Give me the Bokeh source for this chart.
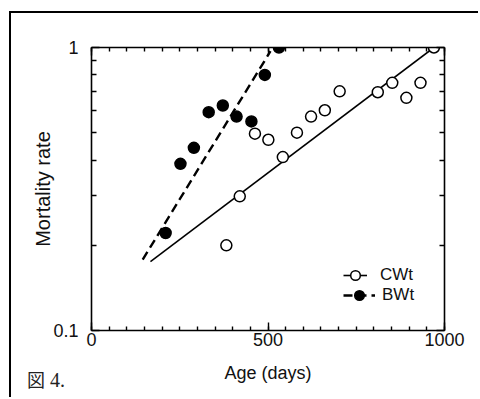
from bokeh.plotting import figure
from bokeh.layouts import column
from bokeh.models import (Range1d, FixedTicker, LinearAxis, LogAxis, Div,
                          BasicTickFormatter, Legend, LegendItem)
from bokeh.embed import file_html
from bokeh.resources import INLINE

# ---- data ----
cwt_age = [382, 420, 463, 501, 542, 582, 622, 661, 703, 811, 852, 892, 932, 970]
cwt_rate = [0.20, 0.298, 0.496, 0.472, 0.41, 0.50, 0.57, 0.60, 0.70, 0.695, 0.75, 0.664, 0.75, 1.0]
bwt_age = [210, 252, 290, 332, 372, 411, 453, 491, 531]
bwt_rate = [0.221, 0.388, 0.442, 0.591, 0.624, 0.570, 0.548, 0.80, 1.0]
cwt_fit_age = [167, 970]
cwt_fit_rate = [0.175, 1.0]
bwt_fit_age = [145, 507]
bwt_fit_rate = [0.178, 0.97]
x_ticks = [0, 500, 1000]
x_minor_ticks = [0, 50, 100, 150, 200, 250, 300, 350, 400, 450, 500,
                 550, 600, 650, 700, 750, 800, 850, 900, 950, 1000]
y_ticks = [0.1, 1]
y_minor_ticks = [0.2, 0.3, 0.4, 0.5, 0.6, 0.7, 0.8, 0.9]
series_names = ["CWt", "BWt"]
x_label = "Age (days)"
y_label = "Mortality rate"
caption = "図 4."

FONT = "Liberation Sans"

p = figure(width=480, height=399, output_backend="svg", toolbar_location=None,
           x_range=Range1d(0, 1000), y_range=Range1d(0.1, 1), y_axis_type="log",
           min_border_left=91, min_border_right=36, min_border_top=47,
           min_border_bottom=69)
p.grid.visible = False
p.outline_line_color = None
p.background_fill_color = "white"
p.border_fill_color = "white"

xt = FixedTicker(ticks=x_ticks, minor_ticks=x_minor_ticks)
yt = FixedTicker(ticks=y_ticks, minor_ticks=y_minor_ticks)


def style_axis(ax, tick_len_major, tick_len_minor):
    ax.axis_line_color = "black"
    ax.axis_line_width = 1.6
    ax.major_tick_in = tick_len_major
    ax.major_tick_out = 0
    ax.minor_tick_in = tick_len_minor
    ax.minor_tick_out = 0
    ax.major_tick_line_width = 1.4
    ax.minor_tick_line_width = 1.4
    ax.major_tick_line_color = "black"
    ax.minor_tick_line_color = "black"
    ax.major_label_text_font = FONT
    ax.major_label_text_font_size = "18px"
    ax.major_label_text_color = "#111111"
    ax.axis_label_text_font = FONT
    ax.axis_label_text_font_style = "normal"
    ax.axis_label_text_color = "#111111"


xa = p.xaxis[0]
xa.ticker = xt
xa.formatter = BasicTickFormatter()
style_axis(xa, 8, 4)
xa.major_label_standoff = 2
xa.axis_label = x_label
xa.axis_label_text_font_size = "18px"
xa.axis_label_standoff = 14

ya = p.yaxis[0]
ya.ticker = yt
ya.formatter = BasicTickFormatter()
ya.major_label_overrides = {0.1: "0.1", 1: "1"}
style_axis(ya, 8, 5)
ya.major_label_standoff = 13
ya.axis_label = y_label
ya.axis_label_text_font_size = "20px"
ya.axis_label_standoff = -4

top = LinearAxis(ticker=xt, major_label_overrides={t: "" for t in x_ticks})
style_axis(top, 8, 4)
p.add_layout(top, "above")
right = LogAxis(ticker=yt, major_label_overrides={0.1: "", 1: ""})
style_axis(right, 8, 5)
p.add_layout(right, "right")

# fitted lines
cl = p.line(cwt_fit_age, cwt_fit_rate, line_color="black", line_width=1.6)
bl = p.line(bwt_fit_age, bwt_fit_rate, line_color="black", line_width=2.4,
            line_dash="9 5")
# points
cs = p.scatter(cwt_age, cwt_rate, marker="circle", size=11, fill_color="white",
               line_color="black", line_width=1.5)
bs = p.scatter(bwt_age, bwt_rate, marker="circle", size=11, fill_color="black",
               line_color="black", line_width=1.5)


def make_legend(name, rends, loc, gw, standoff):
    lg = Legend(items=[LegendItem(label=name, renderers=rends)], location=loc)
    lg.padding = 0
    lg.margin = 0
    lg.border_line_color = None
    lg.background_fill_alpha = 0
    lg.glyph_width = gw
    lg.glyph_height = 24
    lg.label_height = 18
    lg.label_standoff = standoff
    lg.label_text_font = FONT
    lg.label_text_font_size = "17px"
    lg.label_text_color = "#111111"
    p.add_layout(lg, "center")


make_legend(series_names[0], [cl, cs], (252, 43), 24, 13)
make_legend(series_names[1], [bl, bs], (252, 23), 32, 7)

# caption below the chart (figure number) and the scanned page's frame edges
cap_kanji, cap_num = caption.split(" ")
caption_html = (
    '<span style="white-space: nowrap; color: #222222; line-height: 19px;">'
    '<span style="font-family: \'Noto Sans CJK JP\', sans-serif; font-size: 18px;">'
    + cap_kanji + '</span>'
    '<span style="font-family: \'Liberation Serif\', \'DejaVu Serif\', serif; font-size: 20px;">'
    ' ' + cap_num + '</span></span>')
caption_div = Div(text=caption_html, margin=0, styles={
    "position": "absolute", "left": "27px", "top": "370px", "z-index": "5",
    "line-height": "19px"})
frame_div = Div(text="", margin=0, styles={
    "position": "absolute", "left": "9px", "top": "11px",
    "width": "469px", "height": "386px", "z-index": "6",
    "border-top": "2px solid black", "border-left": "2px solid black",
    "pointer-events": "none", "background": "transparent"})

layout = column(p, caption_div, frame_div, spacing=0)
open("out.html", "w").write(file_html(layout, INLINE))
